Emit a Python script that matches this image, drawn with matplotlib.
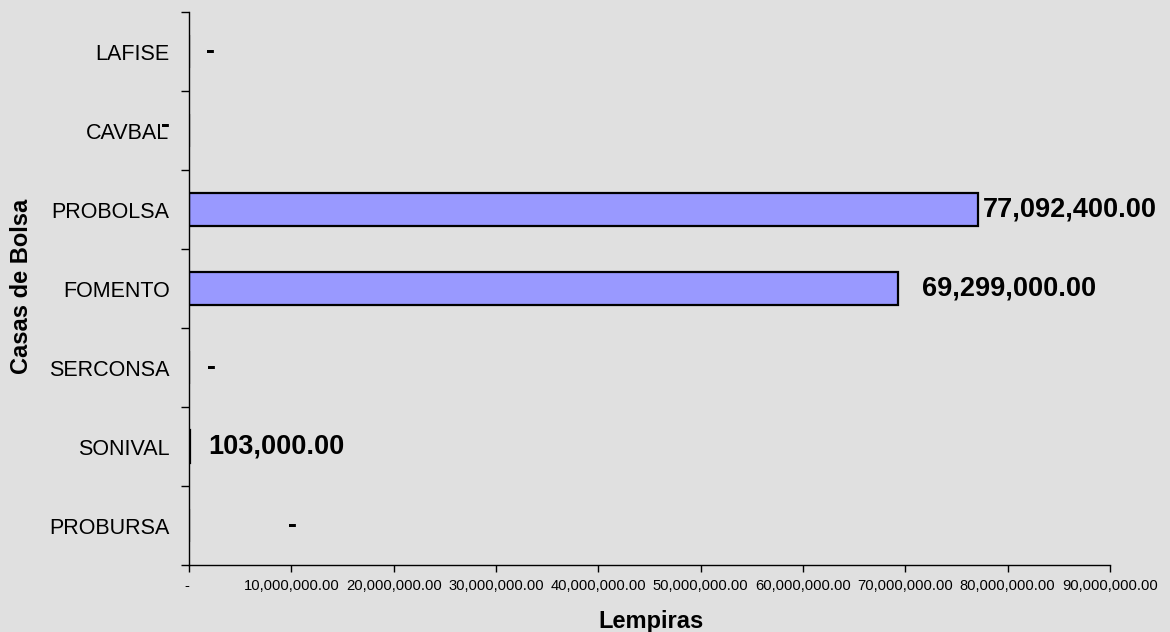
import matplotlib
matplotlib.use('Agg')
import matplotlib.pyplot as plt
import matplotlib.ticker as mticker

plt.rcParams['font.family'] = ['Liberation Sans', 'DejaVu Sans']

# data, bottom to top as drawn
casas = ['PROBURSA', 'SONIVAL', 'SERCONSA', 'FOMENTO', 'PROBOLSA', 'CAVBAL', 'LAFISE']
lempiras = [0, 103000.00, 0, 69299000.00, 77092400.00, 0, 0]
x_ticks = [0, 10e6, 20e6, 30e6, 40e6, 50e6, 60e6, 70e6, 80e6, 90e6]

# label placement (pixel offsets from the bar end), Excel put them a bit oddly
label_dx = [99, 18, 18, 24, 5, -28, 17]
label_dy = [0, 0, 0, 0, 0, 5, 0]

bg = '#e0e0e0'


def money(v, pos=None):
    if v == 0:
        return '-'
    return f'{v:,.2f}'


fig = plt.figure(figsize=(11.7, 6.32), dpi=100, facecolor=bg)
ax = fig.add_axes([0.1615, 0.106, 0.7872, 0.875], facecolor=bg)

ypos = list(range(len(casas)))
ax.barh(ypos, lempiras, height=0.42, color='#9999ff', edgecolor='black', linewidth=1.6)

for i, v in enumerate(lempiras):
    ax.annotate(money(v), xy=(v, ypos[i]), xytext=(label_dx[i], label_dy[i]),
                textcoords='offset pixels', ha='left', va='center',
                fontsize=19.5, fontweight='bold', color='black')

ax.set_xlim(0, 90e6)
ax.set_ylim(-0.5, len(casas) - 0.5)

ax.set_xticks(x_ticks)
ax.xaxis.set_major_formatter(mticker.FuncFormatter(money))
ax.tick_params(axis='x', direction='out', length=5, width=1, labelsize=10.6, pad=5)
# accounting-style dash for zero sits a bit left of its tick
ax.get_xticklabels()[0].set_ha('right')

ax.set_yticks(ypos)
ax.set_yticklabels(casas)
ax.set_yticks([y - 0.5 for y in ypos] + [len(casas) - 0.5], minor=True)
ax.tick_params(axis='y', which='major', length=0, labelsize=15.5, pad=14)
ax.tick_params(axis='y', which='minor', direction='out', length=6, width=1)

for s in ['top', 'right']:
    ax.spines[s].set_visible(False)
for s in ['left', 'bottom']:
    ax.spines[s].set_linewidth(1)

ax.set_xlabel('Lempiras', fontsize=17, fontweight='bold')
ax.xaxis.set_label_coords(0.5016, -0.081)
ax.set_ylabel('Casas de Bolsa', fontsize=17, fontweight='bold')
ax.yaxis.set_label_coords(-0.169, 0.5045)

fig.savefig('out.png', dpi=100, facecolor=bg)
